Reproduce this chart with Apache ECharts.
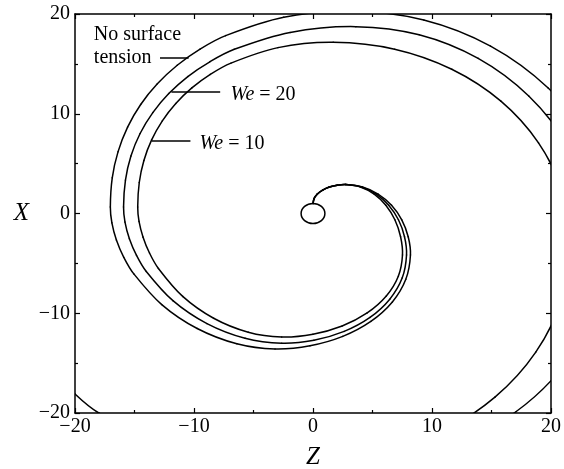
<!DOCTYPE html>
<html>
<head>
<meta charset="utf-8">
<script src="https://cdn.jsdelivr.net/npm/echarts@6/dist/echarts.min.js"></script>
<style>
  html, body { margin: 0; padding: 0; background: #fff; }
  #chart { width: 564px; height: 469px; }
</style>
</head>
<body>
<div id="chart"></div>
<script>
// Jet trajectories in the (Z, X) plane, issuing from the nozzle at the origin.
const axisTicks = [-20, -10, 0, 10, 20];

// Nozzle: centre Z, centre X, radius
const nozzle = [[0, 0, 1]];

// Trajectory without surface tension (outermost spiral)
const noSurfaceTension = [
  [0, 1.0], [0.09, 1.49], [0.37, 1.95], [0.81, 2.34], [1.38, 2.65], [2.04, 2.84], [2.75, 2.9],
  [4.16, 2.66], [5.47, 1.95], [6.60, 0.83], [7.46, -0.63], [8.00, -2.33], [8.19, -4.16],
  [7.80, -6.60], [6.67, -8.87], [4.86, -10.82], [2.50, -12.32], [-0.25, -13.26], [-3.19, -13.58],
  [-6.40, -13.06], [-9.73, -11.53], [-12.71, -9.13], [-15.04, -6.08], [-15.90, -4.39], [-16.52, -2.65],
  [-16.90, -0.93], [-17.03, 0.65], [-16.87, 3.58], [-16.38, 6.20], [-15.58, 8.66], [-14.48, 10.93],
  [-13.08, 13.00], [-11.41, 14.86], [-9.49, 16.48], [-7.34, 17.83], [-2.46, 19.67], [3.28, 20.3],
  [9.31, 19.40], [14.92, 16.78], [19.74, 12.60], [23.44, 7.15], [25.77, 0.81], [26.56, -6],
  [25.65, -12.21], [23.0, -18.0], [18.78, -22.97], [13.28, -26.78]
];

// Trajectory for We = 20
const we20 = [
  [0, 1.0], [0.09, 1.49], [0.37, 1.95], [0.81, 2.34], [1.38, 2.65], [2.04, 2.84], [2.75, 2.9],
  [4.07, 2.66], [5.31, 1.95], [6.36, 0.83], [7.18, -0.63], [7.69, -2.33], [7.86, -4.16],
  [7.50, -6.45], [6.45, -8.59], [4.79, -10.42], [2.62, -11.82], [0.08, -12.71], [-2.63, -13.01],
  [-5.71, -12.51], [-8.91, -11.04], [-11.77, -8.74], [-14.01, -5.81], [-14.83, -4.19], [-15.43, -2.52],
  [-15.80, -0.86], [-15.92, 0.65], [-15.76, 3.34], [-15.30, 5.76], [-14.53, 8.02], [-13.46, 10.11],
  [-12.12, 12.02], [-10.52, 13.73], [-8.67, 15.21], [-6.61, 16.46], [-1.92, 18.15], [3.6, 18.73],
  [8.92, 17.92], [13.88, 15.55], [18.13, 11.78], [21.40, 6.87], [23.45, 1.14], [24.15, -5],
  [23.33, -10.44], [20.91, -15.50], [17.08, -19.85], [12.08, -23.19], [6.25, -25.28]
];

// Trajectory for We = 10 (innermost spiral)
const we10 = [
  [0, 1.0], [0.09, 1.49], [0.37, 1.95], [0.81, 2.34], [1.38, 2.65], [2.04, 2.84], [2.75, 2.9],
  [3.98, 2.66], [5.14, 1.95], [6.12, 0.83], [6.88, -0.63], [7.36, -2.33], [7.52, -4.16],
  [7.17, -6.29], [6.16, -8.27], [4.55, -9.97], [2.45, -11.28], [0.00, -12.10], [-2.63, -12.38],
  [-5.44, -11.90], [-8.35, -10.50], [-10.95, -8.31], [-12.99, -5.51], [-13.74, -3.96], [-14.28, -2.37],
  [-14.62, -0.79], [-14.73, 0.65], [-14.60, 3.11], [-14.21, 5.32], [-13.56, 7.38], [-12.66, 9.29],
  [-11.53, 11.03], [-10.18, 12.59], [-8.63, 13.95], [-6.89, 15.08], [-2.94, 16.63], [1.7, 17.16],
  [6.86, 16.47], [11.66, 14.46], [15.79, 11.26], [18.95, 7.08], [20.94, 2.22], [21.62, -3],
  [20.88, -8.64], [18.72, -13.90], [15.29, -18.41], [10.81, -21.88], [5.60, -24.06], [0, -24.8],
  [-6, -24.3], [-11, -23], [-15, -21.6], [-18, -20.0], [-20, -18.1], [-22, -15.5], [-23.5, -12]
];

// Curve labels: text, anchor of the text (Z, X), leader line from/to (Z, X)
const labelTexts = ['No surface\ntension', 'We = 20', 'We = 10'];
const labelAnchors = [[-18.46, 16.75], [-6.97, 11.95], [-9.58, 7.0]];
const leaderLines = [
  [[-12.86, 15.6], [-10.45, 15.6]],
  [[-11.9, 12.2], [-7.8, 12.2]],
  [[-13.55, 7.25], [-10.3, 7.25]]
];

const SERIF = '"Liberation Serif", "Times New Roman", serif';
const INK = '#000';

function minus(v) { return String(v).replace('-', '\u2212'); }

function curveLabel(i) {
  const t = labelTexts[i];
  if (t.indexOf('We') === 0) {
    return '{it|We}{rm|' + t.slice(2) + '}';
  }
  return t;
}

function dist(u, v) { return Math.hypot(v[0] - u[0], v[1] - u[1]) || 1e-6; }

// Whole trajectory drawn as a smooth cubic spline through the pixel positions
// of its points (tangents scaled by neighbouring chord lengths).
function renderTrajectory(params, api) {
  if (params.dataIndexInside !== 0) return null;
  const p = [];
  for (let k = 0; k < params.dataInsideLength; k++) {
    p.push(api.coord([api.value(0, k), api.value(1, k)]));
  }
  const n = p.length;
  const tan = p.map(function (pt, k) {
    const a = p[Math.max(k - 1, 0)], c = p[Math.min(k + 1, n - 1)];
    const s = dist(a, pt) + dist(pt, c);
    return [(c[0] - a[0]) / s, (c[1] - a[1]) / s];
  });
  const pieces = [];
  for (let k = 0; k < n - 1; k++) {
    const b = p[k], c = p[k + 1];
    const h = dist(b, c) / 3;
    pieces.push({
      type: 'bezierCurve',
      shape: {
        x1: b[0], y1: b[1], x2: c[0], y2: c[1],
        cpx1: b[0] + tan[k][0] * h, cpy1: b[1] + tan[k][1] * h,
        cpx2: c[0] - tan[k + 1][0] * h, cpy2: c[1] - tan[k + 1][1] * h
      },
      style: { fill: null, stroke: INK, lineWidth: 1.5, lineCap: 'round' }
    });
  }
  return { type: 'group', children: pieces };
}

function curveSeries(name, data, i) {
  return {
    name: name,
    type: 'custom',
    data: data,
    clip: true,
    silent: true,
    renderItem: renderTrajectory,
    encode: { x: 0, y: 1 },
    markLine: {
      silent: true,
      symbol: ['none', 'none'],
      label: { show: false },
      lineStyle: { color: INK, width: 1.5, type: 'solid' },
      data: [[{ coord: leaderLines[i][0] }, { coord: leaderLines[i][1] }]]
    },
    markPoint: {
      silent: true,
      symbol: 'rect',
      symbolSize: 1,
      itemStyle: { color: 'rgba(0,0,0,0)' },
      label: {
        show: true,
        position: 'right',
        distance: 0,
        color: INK,
        fontFamily: SERIF,
        fontSize: 20,
        lineHeight: 23,
        formatter: function () { return curveLabel(i); },
        rich: {
          it: { fontFamily: SERIF, fontSize: 20, fontStyle: 'italic', color: INK },
          rm: { fontFamily: SERIF, fontSize: 20, color: INK }
        }
      },
      data: [{ coord: labelAnchors[i] }]
    }
  };
}

function axisBase(extra) {
  return Object.assign({
    type: 'value',
    min: axisTicks[0],
    max: axisTicks[axisTicks.length - 1],
    interval: 10,
    splitLine: { show: false },
    axisLine: { show: true, onZero: false, lineStyle: { color: INK, width: 1.5 } },
    axisTick: { show: true, inside: true, length: 5, lineStyle: { color: INK, width: 1.2 } },
    minorTick: { show: true, splitNumber: 2, length: 3, lineStyle: { color: INK, width: 1.2 } },
    minorSplitLine: { show: false }
  }, extra);
}

const labelStyle = {
  color: INK,
  fontFamily: SERIF,
  fontSize: 20,
  formatter: minus
};

const chart = echarts.init(document.getElementById('chart'), null, { renderer: 'canvas' });

chart.setOption({
  animation: false,
  backgroundColor: '#fff',
  grid: { left: 75, right: 13, top: 14, bottom: 56, containLabel: false, outerBoundsMode: 'none' },
  xAxis: [
    axisBase({
      position: 'bottom',
      name: 'Z',
      nameLocation: 'middle',
      nameGap: 32,
      nameTextStyle: { fontFamily: SERIF, fontSize: 25, fontStyle: 'italic', color: INK },
      axisLabel: Object.assign({ margin: 4 }, labelStyle)
    }),
    axisBase({ position: 'top', axisLabel: { show: false } })
  ],
  yAxis: [
    axisBase({
      position: 'left',
      name: 'X',
      nameLocation: 'middle',
      nameRotate: 0,
      nameGap: 46,
      nameTextStyle: { fontFamily: SERIF, fontSize: 25, fontStyle: 'italic', color: INK },
      axisLabel: Object.assign({ margin: 5 }, labelStyle)
    }),
    axisBase({ position: 'right', axisLabel: { show: false } })
  ],
  series: [
    curveSeries('No surface tension', noSurfaceTension, 0),
    curveSeries('We = 20', we20, 1),
    curveSeries('We = 10', we10, 2),
    {
      name: 'Nozzle',
      type: 'custom',
      silent: true,
      data: nozzle,
      encode: { x: 0, y: 1 },
      renderItem: function (params, api) {
        const z = api.value(0), x = api.value(1), r = api.value(2);
        const c = api.coord([z, x]);
        const e = api.coord([z + r, x + r]);
        const rx = Math.abs(e[0] - c[0]);
        const ry = Math.abs(c[1] - e[1]);
        return {
          type: 'path',
          shape: {
            pathData: 'M0,1A1,1,0,1,0,2,1A1,1,0,1,0,0,1Z',
            layout: 'cover',
            x: c[0] - rx, y: c[1] - ry, width: 2 * rx, height: 2 * ry
          },
          style: { fill: 'none', stroke: INK, lineWidth: 1.5 }
        };
      }
    }
  ]
});
</script>
</body>
</html>
